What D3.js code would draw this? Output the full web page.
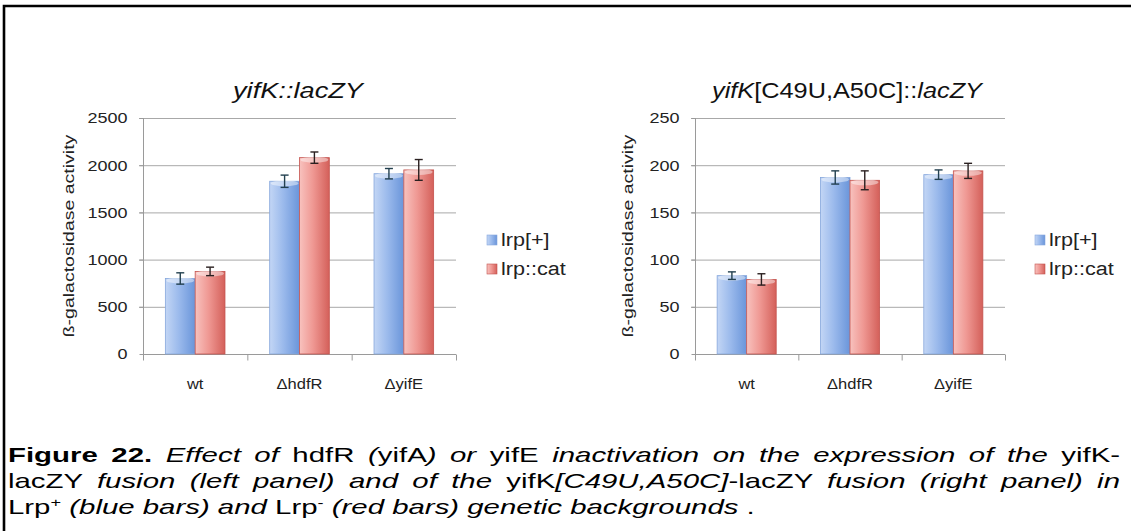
<!DOCTYPE html>
<html>
<head>
<meta charset="utf-8">
<script src="https://cdn.jsdelivr.net/npm/d3@7"></script>
<style>
  html, body { margin: 0; padding: 0; background: #fff; }
  svg { display: block; font-family: "Liberation Sans", Arial, Helvetica, sans-serif; }
</style>
</head>
<body>
<svg id="fig" width="1131" height="531"></svg>
<script>
// ---------------- data ----------------
const categories = ["wt", "\u0394hdfR", "\u0394yifE"];
const seriesNames = ["lrp[+]", "lrp::cat"];

const leftPlus = [800, 1830, 1910];
const leftPlusErr = [60, 65, 55];
const leftCat = [875, 2080, 1950];
const leftCatErr = [45, 60, 110];
const leftTicks = [0, 500, 1000, 1500, 2000, 2500];

const rightPlus = [83, 187, 190];
const rightPlusErr = [4, 7, 5];
const rightCat = [79, 184, 194];
const rightCatErr = [6, 10, 8];
const rightTicks = [0, 50, 100, 150, 200, 250];

const yTitle = "\u00DF-galactosidase activity";

// ---------------- setup ----------------
const svg = d3.select("#fig");
svg.append("rect").attr("width", 1131).attr("height", 531).attr("fill", "#fff");

const defs = svg.append("defs");
function grad(id, stops) {
  const g = defs.append("linearGradient").attr("id", id)
    .attr("x1", "0%").attr("x2", "100%").attr("y1", "0%").attr("y2", "0%");
  stops.forEach(s => g.append("stop").attr("offset", s[0]).attr("stop-color", s[1]));
}
grad("gBlue", [["0%", "#c3d6f5"], ["45%", "#9bbaec"], ["100%", "#6a95da"]]);
grad("gRed", [["0%", "#f8c2be"], ["45%", "#ef9893"], ["100%", "#d4605a"]]);
const fills = ["url(#gBlue)", "url(#gRed)"];
const strokes = ["#86a7dc", "#c4534e"];
const errColors = ["#23404f", "#2a2020"];

function stretch(sel, factor) {
  sel.each(function () {
    const n = this.getComputedTextLength();
    d3.select(this).attr("textLength", n * factor).attr("lengthAdjust", "spacingAndGlyphs");
  });
}

// frame
svg.append("path").attr("d", "M4,531 V6 H1131").attr("fill", "none")
  .attr("stroke", "#000").attr("stroke-width", 2.6);

function panel(cfg) {
  const g = svg.append("g");
  const x = d3.scaleBand().domain(categories).range([cfg.x0, cfg.x1]);
  const y = d3.scaleLinear().domain([0, cfg.ticks[cfg.ticks.length - 1]]).range([354, 118]);
  const bw = x.bandwidth() / 3.5;
  const x1 = d3.scaleBand().domain([0, 1]).range([x.bandwidth() / 2 - bw, x.bandwidth() / 2 + bw]);

  // gridlines
  g.append("g").selectAll("line").data(cfg.ticks.slice(1)).join("line")
    .attr("x1", cfg.x0 - 4).attr("x2", cfg.x1).attr("y1", d => y(d) + 0.5).attr("y2", d => y(d) + 0.5)
    .attr("stroke", "#a8a8a8").attr("stroke-width", 1);

  // y axis
  const ya = g.append("g").attr("transform", `translate(${cfg.x0 + 0.5},0)`)
    .call(d3.axisLeft(y).tickValues(cfg.ticks).tickSize(4).tickPadding(12).tickFormat(d3.format("d")));
  ya.select(".domain").attr("stroke", "#9a9a9a").attr("d", `M0,${y(0)}V${y(cfg.ticks[cfg.ticks.length - 1])}`);
  ya.selectAll(".tick line").attr("stroke", "#9a9a9a");
  ya.selectAll(".tick text").attr("font-size", 15).attr("fill", "#222")
    .attr("font-family", "Liberation Sans, Arial, sans-serif").call(stretch, 1.2);

  // x axis
  const xa = g.append("g").attr("transform", `translate(0,${y(0) + 0.5})`)
    .call(d3.axisBottom(x).tickSize(0).tickPadding(24));
  xa.select(".domain").remove();
  xa.append("line").attr("x1", cfg.x0).attr("x2", cfg.x1).attr("stroke", "#9a9a9a");
  xa.selectAll(".xt").data([cfg.x0, ...categories.map(c => x(c) + x.bandwidth())]).join("line")
    .attr("class", "xt").attr("x1", d => d + 0.5).attr("x2", d => d + 0.5).attr("y1", 0).attr("y2", 6)
    .attr("stroke", "#9a9a9a");
  xa.selectAll(".tick text").attr("font-size", 15).attr("fill", "#222")
    .attr("font-family", "Liberation Sans, Arial, sans-serif").call(stretch, 1.1);

  // bars
  const series = [cfg.plus, cfg.cat];
  const errs = [cfg.plusErr, cfg.catErr];
  series.forEach((vals, si) => {
    const bg = g.append("g");
    const data = categories.map((c, i) => ({ c, v: vals[i], e: errs[si][i] }));
    bg.selectAll("rect.bar").data(data).join("rect").attr("class", "bar")
      .attr("x", d => x(d.c) + x1(si)).attr("width", x1.bandwidth())
      .attr("y", d => y(d.v)).attr("height", d => y(0) - y(d.v))
      .attr("fill", fills[si]).attr("stroke", strokes[si]).attr("stroke-width", 0.8);
    bg.selectAll("ellipse").data(data).join("ellipse")
      .attr("cx", d => x(d.c) + x1(si) + x1.bandwidth() / 2).attr("cy", d => y(d.v) + 2)
      .attr("rx", x1.bandwidth() / 2 - 1).attr("ry", 3)
      .attr("fill", "#fff").attr("opacity", 0.45);
    // error bars
    const eb = bg.selectAll("g.err").data(data).join("g").attr("class", "err")
      .attr("stroke", errColors[si]).attr("stroke-width", 1.4);
    const cx = d => x(d.c) + x1(si) + x1.bandwidth() / 2;
    eb.append("line").attr("x1", cx).attr("x2", cx).attr("y1", d => y(d.v + d.e)).attr("y2", d => y(d.v - d.e));
    eb.append("line").attr("x1", d => cx(d) - 4).attr("x2", d => cx(d) + 4).attr("y1", d => y(d.v + d.e)).attr("y2", d => y(d.v + d.e));
    eb.append("line").attr("x1", d => cx(d) - 4).attr("x2", d => cx(d) + 4).attr("y1", d => y(d.v - d.e)).attr("y2", d => y(d.v - d.e));
  });

  // y title
  g.append("text").attr("transform", `translate(${cfg.yTitleX},236) rotate(-90)`)
    .attr("text-anchor", "middle").attr("font-size", 15).attr("fill", "#222").text(yTitle)
    .call(stretch, 1.3);

  // chart title
  const t = g.append("text").attr("x", cfg.titleX).attr("y", 98).attr("text-anchor", "middle")
    .attr("font-size", 22).attr("fill", "#111");
  cfg.title.forEach(p => t.append("tspan").attr("font-style", p[1] ? "italic" : "normal").text(p[0]));
  t.attr("textLength", cfg.titleW).attr("lengthAdjust", "spacingAndGlyphs");

  // legend
  const lg = g.append("g");
  seriesNames.forEach((s, i) => {
    const yy = 240 + i * 29;
    lg.append("rect").attr("x", cfg.legX).attr("y", yy - 5).attr("width", 10).attr("height", 10)
      .attr("fill", fills[i]).attr("stroke", strokes[i]).attr("stroke-width", 0.6);
    lg.append("text").attr("x", cfg.legX + 14).attr("y", yy + 6).attr("font-size", 18)
      .attr("fill", "#222").text(s).call(stretch, 1.2);
  });
}

panel({ x0: 143, x1: 456, ticks: leftTicks, plus: leftPlus, plusErr: leftPlusErr, cat: leftCat, catErr: leftCatErr,
  yTitleX: 74, titleX: 298, titleW: 130, title: [["yifK", true], ["::", true], ["lacZY", true]], legX: 487 });
panel({ x0: 695, x1: 1005, ticks: rightTicks, plus: rightPlus, plusErr: rightPlusErr, cat: rightCat, catErr: rightCatErr,
  yTitleX: 633, titleX: 847, titleW: 270, title: [["yifK", true], ["[C49U,A50C]::", false], ["lacZY", true]], legX: 1035 });

// ---------------- caption ----------------
const capLines = [
  [["Figure 22.", "b"], [" ", "n"], ["Effect of", "i"], [" hdfR ", "n"], ["(", "i"], ["yifA", "n"], [") or", "i"], [" yifE ", "n"],
   ["inactivation on the expression of the", "i"], [" yifK-", "n"]],
  [["lacZY ", "n"], ["fusion (left panel) and of the", "i"], [" yifK", "n"], ["[C49U,A50C]", "i"], ["-lacZY ", "n"],
   ["fusion (right panel) in", "i"]],
  [["Lrp", "n"], ["+", "sup"], [" (blue bars) and", "i"], [" Lrp", "n"], ["-", "sup"], [" (red bars) genetic backgrounds", "i"], [" .", "n"]]
];
const capBase = [462, 488, 514];
const capS = 1.4;
const capW = 1112;
capLines.forEach((line, li) => {
  const g = svg.append("g").attr("transform", `translate(8,${capBase[li]}) scale(${capS},1)`);
  const t = g.append("text").attr("x", 0).attr("y", 0).attr("font-size", 21).attr("fill", "#000")
    .attr("xml:space", "preserve").style("white-space", "pre");
  line.forEach(p => {
    const ts = t.append("tspan").text(p[0]);
    if (p[1] === "b") ts.attr("font-weight", "bold");
    if (p[1] === "i") ts.attr("font-style", "italic");
    if (p[1] === "sup") ts.attr("font-size", 13).attr("baseline-shift", "super");
  });
  if (li < 2) {
    const n = t.node().getComputedTextLength();
    const spaces = line.map(p => p[0]).join("").split(" ").length - 1;
    const extra = (capW / capS - n) / spaces;
    t.attr("word-spacing", extra);
  }
});
</script>
</body>
</html>
